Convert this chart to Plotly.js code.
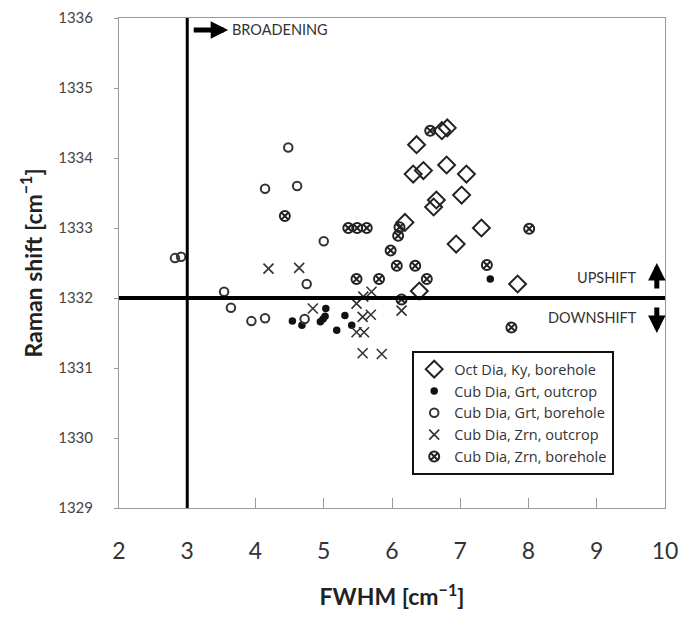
<!DOCTYPE html>
<html>
<head>
<meta charset="utf-8">
<script src="https://cdn.plot.ly/plotly-3.0.1.min.js"></script>
<style>html,body{margin:0;padding:0;background:#fff;}#chart{width:686px;height:621px;}</style>
</head>
<body>
<div id="chart"></div>
<script>
// Oct Dia, Ky, borehole
const octKyBoreX = [6.36, 6.73, 6.81, 6.31, 6.46, 6.80, 7.09, 7.02, 6.61, 6.65, 7.31, 6.94, 7.84, 6.40, 6.19];
const octKyBoreY = [1334.19, 1334.39, 1334.43, 1333.77, 1333.82, 1333.90, 1333.77, 1333.47, 1333.30, 1333.40, 1333.00, 1332.77, 1332.20, 1332.10, 1333.08];
// Cub Dia, Grt, outcrop
const cubGrtOutX = [4.54, 4.68, 4.95, 4.99, 5.02, 5.03, 5.31, 5.19, 5.41, 7.44];
const cubGrtOutY = [1331.67, 1331.61, 1331.66, 1331.70, 1331.74, 1331.85, 1331.75, 1331.54, 1331.61, 1332.27];
// Cub Dia, Grt, borehole
const cubGrtBoreX = [4.48, 4.14, 4.61, 2.82, 2.91, 5.00, 4.75, 3.54, 3.64, 3.94, 4.14, 4.72];
const cubGrtBoreY = [1334.15, 1333.56, 1333.60, 1332.57, 1332.59, 1332.81, 1332.20, 1332.09, 1331.86, 1331.67, 1331.71, 1331.70];
// Cub Dia, Zrn, outcrop
const cubZrnOutX = [4.19, 4.64, 4.84, 5.48, 5.58, 5.70, 5.57, 5.69, 5.48, 5.59, 5.57, 5.85, 6.14];
const cubZrnOutY = [1332.42, 1332.43, 1331.85, 1331.92, 1332.02, 1332.09, 1331.73, 1331.76, 1331.51, 1331.51, 1331.21, 1331.20, 1331.82];
// Cub Dia, Zrn, borehole
const cubZrnBoreX = [4.43, 5.36, 5.49, 5.63, 6.11, 6.09, 5.98, 6.07, 6.34, 5.48, 5.81, 6.51, 7.39, 8.01, 6.14, 7.75, 6.56];
const cubZrnBoreY = [1333.17, 1333.00, 1333.00, 1333.00, 1333.01, 1332.89, 1332.68, 1332.46, 1332.46, 1332.27, 1332.27, 1332.27, 1332.47, 1332.99, 1331.98, 1331.58, 1334.39];

const seriesNames = ["Oct Dia, Ky, borehole", "Cub Dia, Grt, outcrop", "Cub Dia, Grt, borehole", "Cub Dia, Zrn, outcrop", "Cub Dia, Zrn, borehole"];
const xTicks = [2, 3, 4, 5, 6, 7, 8, 9, 10];
const yTicks = [1329, 1330, 1331, 1332, 1333, 1334, 1335, 1336];

const FONT = "Lato, 'Open Sans', sans-serif";

const traces = [
  {x: octKyBoreX, y: octKyBoreY, name: seriesNames[0], type: 'scatter', mode: 'markers',
   marker: {symbol: 'diamond-open', size: 13, color: '#222', line: {width: 2, color: '#222'}}},
  {x: cubGrtOutX, y: cubGrtOutY, name: seriesNames[1], type: 'scatter', mode: 'markers',
   marker: {symbol: 'circle', size: 7.5, color: '#111'}},
  {x: cubGrtBoreX, y: cubGrtBoreY, name: seriesNames[2], type: 'scatter', mode: 'markers',
   marker: {symbol: 'circle-open', size: 8.5, color: '#333', line: {width: 2, color: '#333'}}},
  {x: cubZrnOutX, y: cubZrnOutY, name: seriesNames[3], type: 'scatter', mode: 'markers',
   marker: {symbol: 'x-thin-open', size: 10, color: '#333', line: {width: 1.6, color: '#333'}}},
  {x: cubZrnBoreX, y: cubZrnBoreY, name: seriesNames[4], type: 'scatter', mode: 'markers',
   marker: {symbol: 'circle-x-open', size: 10, color: '#222', line: {width: 2, color: '#222'}}}
];

const layout = {
  width: 686, height: 621,
  margin: {l: 119, r: 21, t: 18, b: 113},
  paper_bgcolor: '#fff', plot_bgcolor: '#fff',
  font: {family: FONT, color: '#333'},
  showlegend: true,
  legend: {
    x: 0.537, y: 0.32, xanchor: 'left', yanchor: 'top',
    bgcolor: '#fff', bordercolor: '#111', borderwidth: 2,
    font: {family: "'Open Sans', Lato, sans-serif", size: 14.5, color: '#333'},
    itemwidth: 30, tracegroupgap: 0
  },
  xaxis: {
    range: [2, 10], tickvals: xTicks, ticktext: xTicks.map(String),
    showgrid: false, zeroline: false,
    showline: true, mirror: true, linecolor: '#999', linewidth: 1,
    ticks: 'inside', ticklen: 10, tickcolor: '#999', tickwidth: 1,
    tickfont: {family: FONT, size: 23, color: '#333'},
    ticklabelstandoff: 22,
    title: {text: '<b>FWHM [cm<sup>\u22121</sup>]</b>', font: {family: FONT, size: 23, color: '#222'}, standoff: 26}
  },
  yaxis: {
    range: [1329, 1336], tickvals: yTicks, ticktext: yTicks.map(String),
    showgrid: false, zeroline: false,
    showline: true, mirror: true, linecolor: '#999', linewidth: 1,
    ticks: 'outside', ticklen: 4, tickcolor: '#999', tickwidth: 1,
    tickfont: {family: FONT, size: 15, color: '#444'},
    ticklabelstandoff: 18,
    title: {text: '<b>Raman shift [cm<sup>\u22121</sup>]</b>', font: {family: FONT, size: 23, color: '#222'}, standoff: 9}
  },
  shapes: [
    {type: 'line', xref: 'x', yref: 'y', x0: 3, x1: 3, y0: 1329, y1: 1336, line: {color: '#000', width: 3}},
    {type: 'line', xref: 'x', yref: 'y', x0: 2, x1: 10, y0: 1332, y1: 1332, line: {color: '#000', width: 4}}
  ],
  annotations: [
    {x: 3.6, y: 1335.83, xref: 'x', yref: 'y', ax: -36, ay: 0, axref: 'pixel', ayref: 'pixel',
     text: '', showarrow: true, arrowhead: 2, arrowsize: 0.7, arrowwidth: 5, arrowcolor: '#000'},
    {x: 3.62, y: 1335.83, xref: 'x', yref: 'y', text: 'BROADENING', showarrow: false,
     xanchor: 'left', yanchor: 'middle', font: {family: FONT, size: 14.5, color: '#333'}},
    {x: 9.88, y: 1332.5, xref: 'x', yref: 'y', ax: 0, ay: 27, text: '', showarrow: true,
     arrowhead: 2, arrowsize: 0.7, arrowwidth: 5, arrowcolor: '#000'},
    {x: 9.88, y: 1331.5, xref: 'x', yref: 'y', ax: 0, ay: -27, text: '', showarrow: true,
     arrowhead: 2, arrowsize: 0.7, arrowwidth: 5, arrowcolor: '#000'},
    {x: 9.62, y: 1332.3, xref: 'x', yref: 'y', text: 'UPSHIFT', showarrow: false,
     xanchor: 'right', yanchor: 'middle', font: {family: FONT, size: 14.5, color: '#333'}},
    {x: 9.62, y: 1331.72, xref: 'x', yref: 'y', text: 'DOWNSHIFT', showarrow: false,
     xanchor: 'right', yanchor: 'middle', font: {family: FONT, size: 14.5, color: '#333'}}
  ]
};

Plotly.newPlot('chart', traces, layout, {displayModeBar: false, staticPlot: true});
</script>
</body>
</html>
